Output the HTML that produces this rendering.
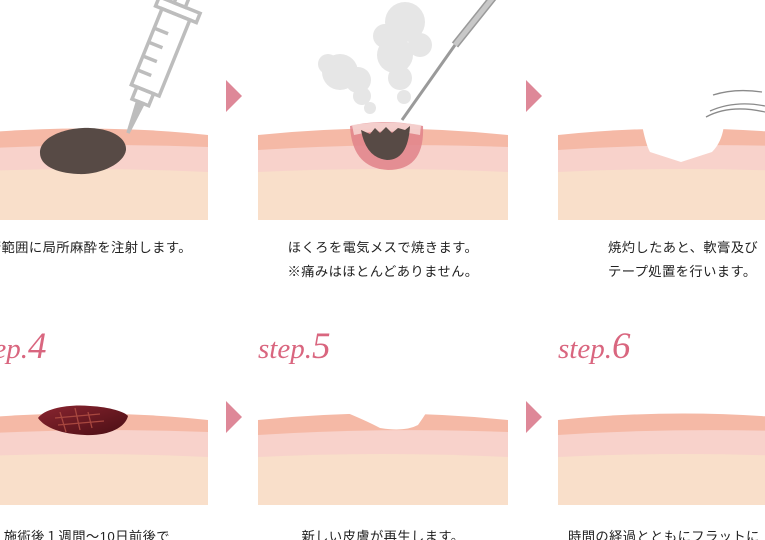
<!DOCTYPE html>
<html><head><meta charset="utf-8"><style>
html,body{margin:0;padding:0;background:#fff;width:765px;height:540px;overflow:hidden}
svg{display:block}
.t{font-family:"Liberation Sans","Noto Sans CJK JP",sans-serif;font-size:13.3px;letter-spacing:0.4px;fill:#222}
.s{font-family:"Liberation Serif","DejaVu Serif",serif;font-style:italic;fill:#d9667f}
</style></head><body>
<svg width="765" height="540" viewBox="0 0 765 540" xmlns="http://www.w3.org/2000/svg">
<defs>
<g id="skin">
<path d="M0,5 Q125,-8 250,5 L250,90 L0,90Z" fill="#f5b9a6"/>
<path d="M0,20 Q125,12 250,17 L250,90 L0,90Z" fill="#f8d2cb"/>
<path d="M0,42 Q125,36 250,42 L250,90 L0,90Z" fill="#f9dfca"/>
</g>
</defs>
<use href="#skin" x="-42" y="130"/>
<use href="#skin" x="258" y="130"/>
<use href="#skin" x="558" y="130"/>
<path d="M40,153 C40,135 70,127 90,128 C115,129 127,140 126,150 C124,164 100,175 78,174 C55,173 40,165 40,153Z" fill="#574a45"/>
<!-- syringe -->
<g transform="translate(128,133) rotate(22)" fill="none" stroke="#bdbdbd" stroke-width="3.5">
<path d="M0,0 L-3,-33 L3,-33 Z" fill="#bdbdbd"/>
<rect x="-9" y="-46" width="18" height="13"/>
<rect x="-15" y="-128" width="30" height="82"/>
<line x1="-15" y1="-62" x2="0" y2="-62"/><line x1="-15" y1="-77" x2="0" y2="-77"/><line x1="-15" y1="-92" x2="0" y2="-92"/><line x1="-15" y1="-107" x2="0" y2="-107"/>
<rect x="-22" y="-138" width="44" height="10"/>
<rect x="-6" y="-190" width="12" height="52"/>
</g>
<!-- step2 burn -->
<path d="M350,126 Q383,118 423,126 Q425,170 388,170 Q352,168 350,126Z" fill="#e0838a" opacity="0.85"/>
<path d="M352,125 Q383,120 421,125 L420,135 Q385,128 354,135Z" fill="#f7dcd8" opacity="0.8"/>
<path d="M361,130 L370,134 L375,128 L380,133 L386,127 L392,133 L398,128 L405,130 L410,126 Q408,160 387,160 Q366,158 361,130Z" fill="#574a45"/>
<g fill="#e6e6e6">
<circle cx="340" cy="72" r="18"/><circle cx="328" cy="64" r="10"/><circle cx="358" cy="80" r="13"/><circle cx="362" cy="96" r="9"/><circle cx="370" cy="108" r="6"/>
<circle cx="405" cy="22" r="20"/><circle cx="385" cy="36" r="12"/><circle cx="395" cy="55" r="18"/><circle cx="400" cy="78" r="12"/><circle cx="404" cy="97" r="7"/><circle cx="420" cy="45" r="12"/>
</g>
<line x1="402" y1="120" x2="455" y2="45" stroke="#9a9a9a" stroke-width="3"/>
<line x1="455" y1="45" x2="495" y2="-5" stroke="#9a9a9a" stroke-width="8"/>
<line x1="455" y1="45" x2="495" y2="-5" stroke="#c8c8c8" stroke-width="5"/>
<!-- step3 -->
<path d="M642,125 Q646,145 650,152 L681,162 L712,152 Q722,142 724,125 L724,120 L642,120Z" fill="#fff"/>
<g fill="none" stroke="#8a8a8a" stroke-width="1.3">
<path d="M713,95 Q735,88 762,92"/><path d="M706,117 Q730,104 765,112"/><path d="M710,111 Q735,100 765,106"/>
</g>
<path d="M226,80 L242,96 L226,112Z" fill="#de8898"/>
<path d="M526,80 L542,96 L526,112Z" fill="#de8898"/>
<path d="M226,401 L242,417 L226,433Z" fill="#de8898"/>
<path d="M526,401 L542,417 L526,433Z" fill="#de8898"/>
<text class="t" x="83" y="252" text-anchor="middle">施術範囲に局所麻酔を注射します。</text>
<text class="t" x="383" y="252" text-anchor="middle">ほくろを電気メスで焼きます。</text>
<text class="t" x="383" y="276" text-anchor="middle">※痛みはほとんどありません。</text>
<text class="t" x="608" y="252">焼灼したあと、軟膏及び</text>
<text class="t" x="608" y="276">テープ処置を行います。</text>
<text class="s" x="-26" y="358" font-size="29">step.<tspan font-size="37">4</tspan></text>
<text class="s" x="258" y="358" font-size="29">step.<tspan font-size="37">5</tspan></text>
<text class="s" x="558" y="358" font-size="29">step.<tspan font-size="37">6</tspan></text>
<use href="#skin" x="-42" y="415"/>
<use href="#skin" x="258" y="415"/>
<use href="#skin" x="558" y="415"/>
<path d="M340,410 Q365,420 380,428 Q405,432 418,425 Q423,418 428,410Z" fill="#fff"/>
<defs><linearGradient id="sc" x1="0" y1="0" x2="1" y2="1"><stop offset="0" stop-color="#8a2530"/><stop offset="1" stop-color="#4a0e14"/></linearGradient></defs>
<path d="M38,418 C45,408 70,404 90,406 C110,407 125,412 128,416 C125,428 108,436 85,435 C62,434 45,428 38,418Z" fill="url(#sc)"/>
<g stroke="#a8473f" stroke-width="1.3" fill="none"><path d="M60,412 L66,432"/><path d="M75,408 L80,430"/><path d="M88,412 L92,428"/><path d="M55,418 L100,414"/><path d="M58,425 L104,421"/></g>
<text class="t" x="170" y="541" text-anchor="end">施術後１週間～10日前後で</text>
<text class="t" x="383" y="541" text-anchor="middle">新しい皮膚が再生します。</text>
<text class="t" x="568" y="541">時間の経過とともにフラットに</text>
</svg>
</body></html>
